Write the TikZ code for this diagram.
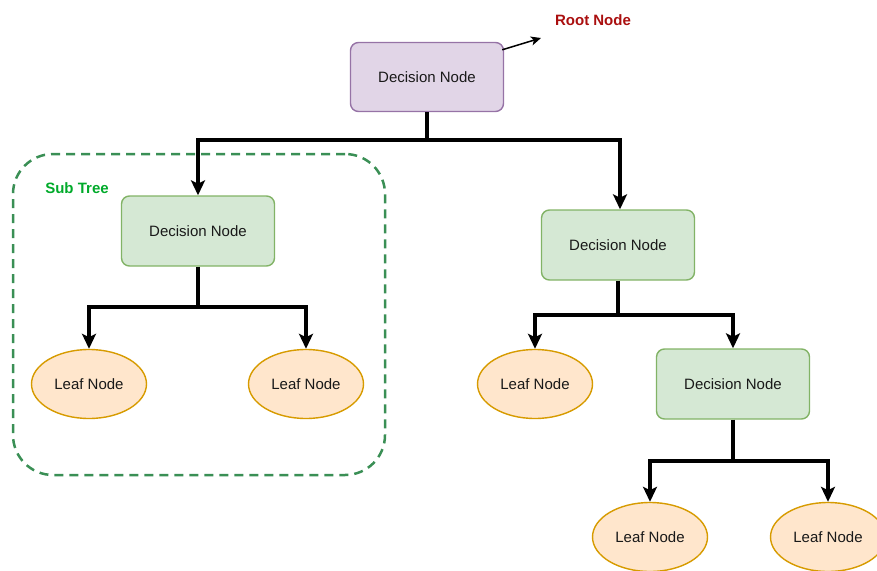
\documentclass[tikz,border=0pt]{standalone}
\usepackage{fontspec}
\setmainfont{Liberation Sans}
\usetikzlibrary{arrows.meta,shapes.geometric}
\definecolor{purpfill}{HTML}{E1D5E7}
\definecolor{purpline}{HTML}{9673A6}
\definecolor{grnfill}{HTML}{D5E8D4}
\definecolor{grnline}{HTML}{82B366}
\definecolor{orgfill}{HTML}{FFE6CC}
\definecolor{orgline}{HTML}{D79B00}
\definecolor{dashgreen}{HTML}{3A8F55}
\definecolor{subgreen}{HTML}{00AA2A}
\definecolor{rootred}{HTML}{AA0F0F}
\tikzset{
  txt/.style={font=\fontsize{15}{18}\selectfont, text=black!90},
  rootbox/.style={txt, draw=purpline, fill=purpfill, line width=1.4pt, rounded corners=8pt,
    minimum width=153pt, minimum height=69pt, inner sep=0pt},
  decbox/.style={txt, draw=grnline, fill=grnfill, line width=1.4pt, rounded corners=8pt,
    minimum width=153pt, minimum height=70pt, inner sep=0pt},
  leaf/.style={txt, ellipse, draw=orgline, fill=orgfill, line width=1.4pt,
    minimum width=115pt, minimum height=69pt, inner sep=0pt},
  subtree/.style={draw=dashgreen, line width=2.5pt, dash pattern=on 9pt off 6pt,
    rounded corners=40pt, minimum width=372pt, minimum height=321pt, inner sep=0pt},
  link/.style={line width=3.2pt, black, -{Stealth[length=15pt,width=14pt,inset=3.5pt]}},
  plain/.style={line width=3.2pt, black},
  tag/.style={font=\bfseries\fontsize{15}{18}\selectfont}
}
\begin{document}
\begin{tikzpicture}[x=1pt,y=-1pt]
\useasboundingbox (0,0) rectangle (877,570);
\clip (0,0) rectangle (877,570);

% sub-tree frame and labels
\node[subtree] (frame) at (199,314.5) {};
\node[tag, text=subgreen] (sublbl) at (77,188) {Sub Tree};
\node[tag, text=rootred] (rootlbl) at (593,20) {Root Node};

% nodes
\node[rootbox] (root) at (427,77) {Decision Node};
\node[decbox] (dl) at (198,231) {Decision Node};
\node[decbox] (dr) at (618,245) {Decision Node};
\node[leaf] (l1) at (89,384) {Leaf Node};
\node[leaf] (l2) at (306,384) {Leaf Node};
\node[leaf] (l3) at (535,384) {Leaf Node};
\node[decbox] (dd) at (733,384) {Decision Node};
\node[leaf] (l4) at (650,537) {Leaf Node};
\node[leaf] (l5) at (828,537) {Leaf Node};

% branch points
\coordinate (j0) at (427,140);
\coordinate (j1) at (198,307);
\coordinate (j2) at (618,315);
\coordinate (j3) at (733,461);
\coordinate (rootarrow) at (541,38);

% connectors
\draw[plain] (root.south) -- (j0);
\draw[link] (j0) -| (dl.north);
\draw[link] (j0) -| ([xshift=2pt]dr.north);

\draw[plain] (dl.south) -- (j1);
\draw[link] (j1) -| (l1.north);
\draw[link] (j1) -| (l2.north);

\draw[plain] (dr.south) -- (j2);
\draw[link] (j2) -| (l3.north);
\draw[link] (j2) -| (dd.north);

\draw[plain] (dd.south) -- (j3);
\draw[link] (j3) -| (l4.north);
\draw[link] (j3) -| (l5.north);

\draw[line width=1.5pt, black, -{Stealth[length=10pt,width=9pt,inset=2.5pt]}]
  ([xshift=-2pt,yshift=-8pt]root.north east) -- (rootarrow);
\end{tikzpicture}
\end{document}
